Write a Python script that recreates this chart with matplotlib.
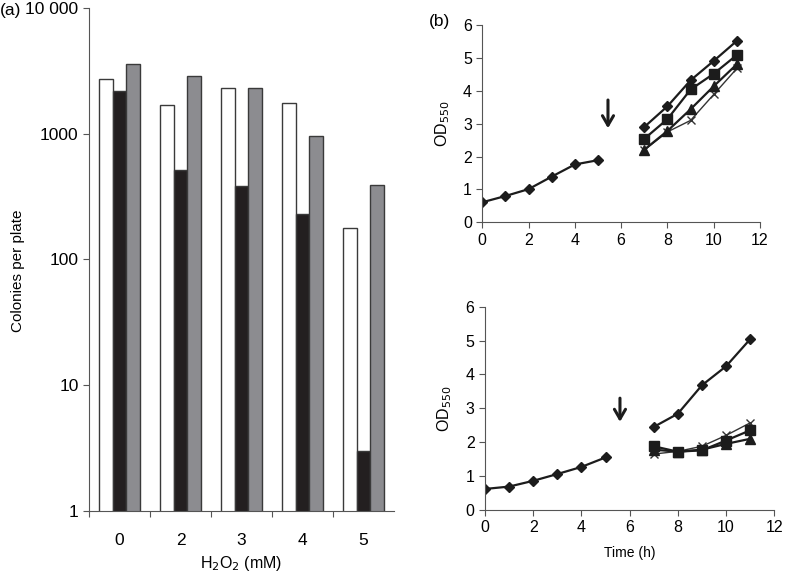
import numpy as np
import matplotlib
matplotlib.use("Agg")
import matplotlib.pyplot as plt
from matplotlib.ticker import FixedLocator, NullLocator

plt.rcParams['font.family'] = ['Liberation Sans', 'DejaVu Sans']
plt.rcParams['font.size'] = 12.5

# panel (a) - colonies per plate
conc = ["0", "2", "3", "4", "5"]
white_bars = [2740, 1690, 2300, 1765, 179]
black_bars = [2200, 512, 386, 230, 3]
grey_bars = [3560, 2880, 2300, 959, 391]

# panel (b) top - growth before/after addition
pre_t = [0, 1, 2, 3, 4, 5]
top_pre = [0.61, 0.80, 1.01, 1.39, 1.76, 1.89]
post_t = [7, 8, 9, 10, 11]
top_diamond = [2.90, 3.53, 4.32, 4.91, 5.52]
top_square = [2.54, 3.14, 4.04, 4.52, 5.09]
top_triangle = [2.21, 2.78, 3.44, 4.14, 4.81]
top_cross = [2.20, 2.75, 3.10, 3.89, 4.68]

# panel (b) bottom
bot_pre = [0.62, 0.69, 0.86, 1.06, 1.27, 1.55]
bot_diamond = [2.45, 2.84, 3.68, 4.24, 5.04]
bot_square = [1.88, 1.72, 1.76, 2.05, 2.35]
bot_triangle = [1.78, 1.72, 1.78, 1.95, 2.10]
bot_cross = [1.65, 1.73, 1.88, 2.20, 2.57]

spine_col = "#555555"
line_col = "#1c1c1c"

fig = plt.figure(figsize=(7.85, 5.73), dpi=100)

# ---------------- (a) ----------------
ax = fig.add_axes([0.1134, 0.1082, 0.3885, 0.878])
x = np.arange(len(conc))
w = 0.22
ax.bar(x - w, white_bars, w, color="white", edgecolor="#3a3a3a", linewidth=1.0, log=True)
ax.bar(x, black_bars, w, color="#231f20", edgecolor="#3a3a3a", linewidth=1.0, log=True)
ax.bar(x + w, grey_bars, w, color="#8c8c90", edgecolor="#3a3a3a", linewidth=1.0, log=True)
ax.set_xlim(-0.5, 4.5)
ax.set_ylim(1, 10000)
ax.yaxis.set_major_locator(FixedLocator([1, 10, 100, 1000, 10000]))
ax.yaxis.set_minor_locator(NullLocator())
ax.set_yticklabels(["1", "10", "100", "1000", "10 000"])
ax.xaxis.set_major_locator(FixedLocator([-0.5, 0.5, 1.5, 2.5, 3.5]))
ax.xaxis.set_minor_locator(FixedLocator(x))
ax.set_xticklabels([], minor=False)
ax.set_xticklabels(conc, minor=True)
ax.tick_params(axis="x", which="minor", length=0, pad=16)
ax.tick_params(axis="x", which="major", length=4, color=spine_col)
ax.tick_params(axis="y", length=4, color=spine_col)
for s in ["top", "right"]:
    ax.spines[s].set_visible(False)
for s in ["left", "bottom"]:
    ax.spines[s].set_color(spine_col)
ax.set_ylabel("Colonies per plate", fontsize=11)
ax.yaxis.set_label_coords(-0.21, 0.477)
ax.set_xlabel("H$_2$O$_2$ (mM)", labelpad=4, fontsize=11.5)
fig.text(0.0, 0.982, "(a)", ha="left", va="center")


def growth_axes(rect, pre, d, sq, tri, cr, arrow_x, arrow_top, arrow_bot):
    a = fig.add_axes(rect)
    a.plot(pre_t, pre, color=line_col, lw=1.6, marker="D", ms=5)
    a.plot(post_t, cr, color="#333333", lw=1.0, marker="x", ms=6, mew=1.0)
    a.plot(post_t, tri, color=line_col, lw=1.6, marker="^", ms=6.5)
    a.plot(post_t, sq, color=line_col, lw=1.6, marker="s", ms=6.5)
    a.plot(post_t, d, color=line_col, lw=1.6, marker="D", ms=5)
    a.annotate("", xy=(arrow_x, arrow_bot), xytext=(arrow_x, arrow_top),
               arrowprops=dict(arrowstyle="->,head_length=0.55,head_width=0.32",
                               color=line_col, lw=2.2, shrinkA=0, shrinkB=0))
    a.set_xlim(0, 12)
    a.set_ylim(0, 6)
    a.set_xticks([0, 2, 4, 6, 8, 10, 12])
    a.set_yticks([0, 1, 2, 3, 4, 5, 6])
    a.tick_params(length=4, color=spine_col, labelsize=11.5)
    for s in ["top", "right"]:
        a.spines[s].set_visible(False)
    for s in ["left", "bottom"]:
        a.spines[s].set_color(spine_col)
    a.set_ylabel("OD$_{550}$", labelpad=8, fontsize=11.5)
    return a


growth_axes([0.6144, 0.612, 0.3538, 0.3443], top_pre, top_diamond, top_square,
            top_triangle, top_cross, 5.43, 3.72, 2.86)
axb = growth_axes([0.6178, 0.110, 0.3685, 0.3548], bot_pre, bot_diamond, bot_square,
                  bot_triangle, bot_cross, 5.6, 3.30, 2.60)
axb.set_xlabel("Time (h)", labelpad=8, fontsize=10)
fig.text(0.546, 0.962, "(b)", ha="left", va="center")

fig.savefig("out.png", dpi=100)
